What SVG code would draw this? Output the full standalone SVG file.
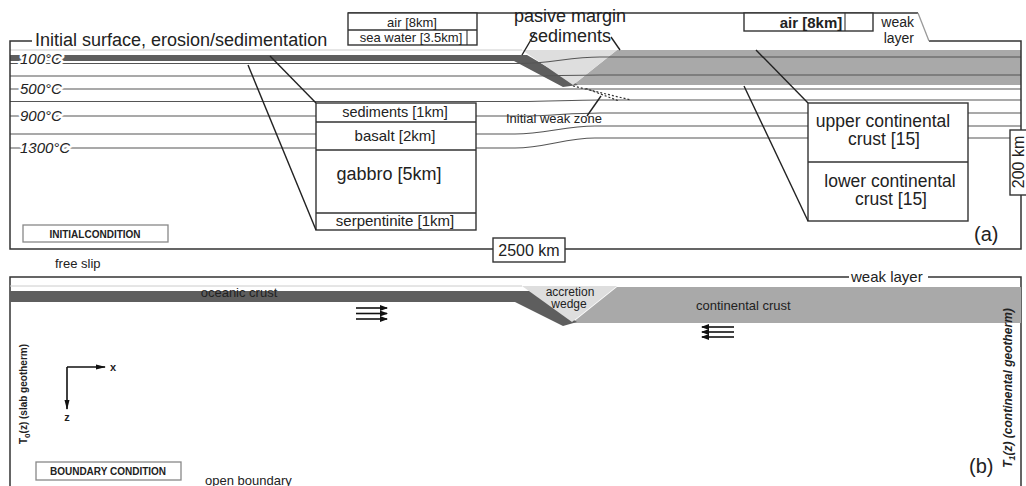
<svg xmlns="http://www.w3.org/2000/svg" width="1026" height="486" viewBox="0 0 1026 486">
<defs>
<style>
text { font-family: "Liberation Sans", Arial, Helvetica, sans-serif; fill: #222; }
.frame { fill: none; stroke: #333; stroke-width: 1.5; }
.iso { fill: none; stroke: #555; stroke-width: 1.1; }
.lead { fill: none; stroke: #222; stroke-width: 1.4; }
.dot { fill: none; stroke: #333; stroke-width: 1.2; stroke-dasharray: 2 2; }
.box { fill: #fff; stroke: #333; stroke-width: 1.4; }
.temp { font-size: 15px; font-style: italic; stroke: #fff; stroke-width: 5px; paint-order: stroke; stroke-linejoin: round; }
.cond { fill: #fff; stroke: #888; stroke-width: 1.3; }
.condt { font-size: 10px; font-weight: bold; text-anchor: middle; }
.slab { fill: #5e5e5e; }
.cont { fill: #a9a9a9; }
.wedge { fill: #dedede; }
.thin { stroke: #ccc; stroke-width: 1; }
.mid { text-anchor: middle; }
.arr { stroke: #111; stroke-width: 1.6; marker-end: url(#ah); }
</style>
<marker id="ah" markerWidth="8" markerHeight="6" refX="7" refY="3" orient="auto" markerUnits="userSpaceOnUse"><path d="M0,0 L8,3 L0,6 z" fill="#111"/></marker>
<marker id="ax" markerWidth="10" markerHeight="6" refX="9" refY="3" orient="auto" markerUnits="userSpaceOnUse"><path d="M0,0.5 L10,3 L0,5.5 z" fill="#111"/></marker>
</defs>

<g id="panel-a">
  <line class="thin" x1="10" y1="50" x2="522" y2="50"/>
  <polygon class="cont" points="617,50 1021,50 1021,85 573,85"/>
  <polygon class="slab" points="10,55 527,55 578,85 563,87 514,61 10,61"/>
  <polygon class="wedge" points="522,50 617,50 573,85"/>
  <g id="isotherms">
    <path class="iso" d="M10,63.5 H520 C550,63.5 570,57 600,57 H1021"/>
    <path class="iso" d="M10,76 H520 C550,76 570,75 600,75 H1021"/>
    <path class="iso" d="M10,89 H1021"/>
    <path class="iso" d="M10,101.5 H520 C550,101.5 570,100 600,100 H1021"/>
    <path class="iso" d="M10,116 H520 C550,116 570,113 600,113 H1021"/>
    <path class="iso" d="M10,134 H515 C545,134 565,126 595,126 H1021"/>
    <path class="iso" d="M10,148 H515 C545,148 565,138 595,138 H1021"/>
  </g>
  <path class="frame" d="M348,13 H918 M929,41 H1021 V249 H10 V41 H32"/>
  <line x1="918" y1="13" x2="929" y2="41" stroke="#999" stroke-width="1.3"/>
  <text x="35" y="46" font-size="18">Initial surface, erosion/sedimentation</text>
  <text class="temp" x="20" y="64">100°C</text>
  <text class="temp" x="20" y="94">500°C</text>
  <text class="temp" x="20" y="121">900°C</text>
  <text class="temp" x="20" y="153">1300°C</text>
  <text x="570" y="22" font-size="18" class="mid">pasive margin</text>
  <text x="570" y="42" font-size="18" class="mid">sediments</text>
  <text x="506" y="123" font-size="12.5" textLength="96" lengthAdjust="spacingAndGlyphs">Initial weak zone</text>
  <text x="914" y="27" font-size="14" text-anchor="end">weak</text>
  <text x="914" y="43" font-size="14" text-anchor="end">layer</text>
  <text x="974" y="241" font-size="20">(a)</text>
  <text x="55" y="268" font-size="13">free slip</text>
</g>

<g id="air-box-left">
  <rect class="box" x="348" y="13" width="129" height="32"/>
  <line x1="348" y1="30" x2="477" y2="30" stroke="#333" stroke-width="1.3"/>
  <line x1="467" y1="30" x2="467" y2="45" stroke="#333" stroke-width="1.1"/>
  <text x="412" y="27" font-size="13" class="mid">air [8km]</text>
  <text x="411" y="42" font-size="13" class="mid">sea water [3.5km]</text>
</g>

<g id="air-box-right">
  <rect class="box" x="744" y="13" width="129" height="18"/>
  <line x1="845" y1="13" x2="845" y2="31" stroke="#333" stroke-width="1.1"/>
  <text x="811" y="27.5" font-size="15" font-weight="bold" class="mid">air [8km]</text>
</g>

<g id="oceanic-column">
  <rect class="box" x="316" y="103" width="160" height="127"/>
  <path d="M316,122 H476 M316,150 H476 M316,213 H476" stroke="#333" stroke-width="1.3"/>
  <text x="395" y="117" font-size="14.5" class="mid">sediments [1km]</text>
  <text x="395" y="141" font-size="15" class="mid">basalt [2km]</text>
  <text x="389" y="180" font-size="18" class="mid">gabbro [5km]</text>
  <text x="395" y="226" font-size="15" class="mid">serpentinite [1km]</text>
</g>

<g id="continental-column">
  <rect class="box" x="808" y="103" width="160" height="118"/>
  <line x1="808" y1="162" x2="968" y2="162" stroke="#333" stroke-width="1.3"/>
  <text x="883" y="127" font-size="17.5" class="mid">upper continental</text>
  <text x="884" y="145" font-size="17.5" class="mid">crust [15]</text>
  <text x="890" y="187" font-size="17.5" class="mid">lower continental</text>
  <text x="891" y="205" font-size="17.5" class="mid">crust [15]</text>
</g>

<g id="height-label">
  <rect class="box" x="1010" y="130" width="30" height="65"/>
  <text transform="translate(1024,162) rotate(-90)" font-size="16" class="mid">200 km</text>
</g>

<g id="width-label">
  <rect class="box" x="493" y="238" width="72" height="24"/>
  <text x="529" y="256" font-size="16" class="mid">2500 km</text>
</g>

<g id="initial-condition">
  <rect class="cond" x="23" y="225" width="145" height="17"/>
  <text class="condt" x="95" y="237.5">INITIALCONDITION</text>
</g>

<g id="panel-b">
  <path class="frame" d="M10,486 V277 H849 M928,277 H1021 V486"/>
  <line class="thin" x1="10" y1="286" x2="522" y2="286"/>
  <polygon class="cont" points="617,287 1021,287 1021,323 572,323"/>
  <polygon class="slab" points="10,291 530,291 577,322 563,326 515,302 10,302"/>
  <polygon class="wedge" points="522,286 617,286 572,322"/>
  <text x="851" y="282" font-size="15">weak layer</text>
  <text x="239" y="297" font-size="13" class="mid">oceanic crust</text>
  <text x="570" y="296" font-size="12" class="mid">accretion</text>
  <text x="569" y="308" font-size="12" class="mid">wedge</text>
  <text x="696" y="310" font-size="13">continental crust</text>
  <text transform="translate(27,394) rotate(-90)" font-size="10" font-weight="bold" class="mid">T<tspan font-size="8" dy="3">0</tspan><tspan dy="-3">(z) (slab geotherm)</tspan></text>
  <text transform="translate(1012,388) rotate(-90)" font-size="12" font-weight="bold" font-style="italic" class="mid">T<tspan font-size="9" dy="3">1</tspan><tspan dy="-3">(z) (continental geotherm)</tspan></text>
  <text x="969" y="473" font-size="20">(b)</text>
  <text x="205" y="485" font-size="13">open boundary</text>
</g>

<g id="boundary-condition">
  <rect class="cond" x="36" y="462" width="145" height="18"/>
  <text class="condt" x="108" y="475">BOUNDARY CONDITION</text>
</g>

<g id="axes">
  <line x1="67" y1="367" x2="105" y2="367" stroke="#111" stroke-width="1.6" marker-end="url(#ax)"/>
  <line x1="67" y1="367" x2="67" y2="409" stroke="#111" stroke-width="1.6" marker-end="url(#ax)"/>
  <text x="113" y="371" font-size="11" font-weight="bold" class="mid">x</text>
  <text x="67" y="421" font-size="11" font-weight="bold" class="mid">z</text>
</g>

<g id="velocity-arrows">
  <line class="arr" x1="356" y1="308" x2="387" y2="308"/>
  <line class="arr" x1="356" y1="313.5" x2="387" y2="313.5"/>
  <line class="arr" x1="356" y1="319" x2="387" y2="319"/>
  <line class="arr" x1="734" y1="327" x2="702" y2="327"/>
  <line class="arr" x1="734" y1="332" x2="702" y2="332"/>
  <line class="arr" x1="734" y1="337" x2="702" y2="337"/>
</g>

<g id="connectors">
  <line class="lead" x1="270" y1="56" x2="316" y2="103"/>
  <line class="lead" x1="248" y1="65" x2="316" y2="230"/>
  <line class="lead" x1="756" y1="50" x2="808" y2="103"/>
  <line class="lead" x1="744" y1="86" x2="808" y2="221"/>
  <line class="lead" x1="535" y1="33" x2="522" y2="55"/>
  <line class="lead" x1="611" y1="37" x2="620" y2="50"/>
  <line class="lead" x1="587" y1="116" x2="601" y2="96"/>
  <line class="dot" x1="573" y1="86" x2="631" y2="100"/>
  <line class="dot" x1="586" y1="88.5" x2="619" y2="101"/>
</g>
</svg>
